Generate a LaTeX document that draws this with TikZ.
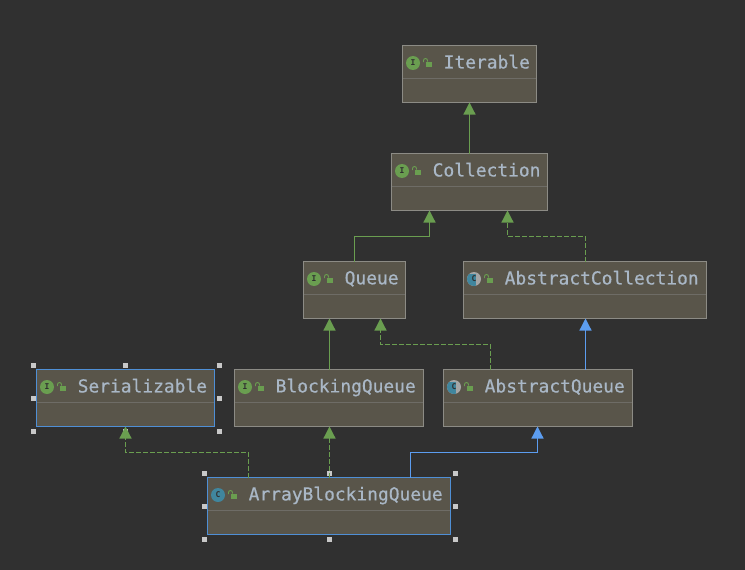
\documentclass[tikz,border=0pt]{standalone}
\usepackage{fontspec}
\setmonofont{DejaVu Sans Mono}
\newfontfamily\classfont[FakeBold=0.6]{DejaVu Sans Mono}
\usetikzlibrary{arrows.meta}
\definecolor{bgdark}{HTML}{303030}
\definecolor{boxfill}{HTML}{59554A}
\definecolor{boxedge}{HTML}{8C8B85}
\definecolor{boxline}{HTML}{6E6C66}
\definecolor{labelcol}{HTML}{A9B7C6}
\definecolor{greencol}{HTML}{6A9E50}
\definecolor{bluecol}{HTML}{5C9DF0}
\definecolor{tealcol}{HTML}{40869E}
\definecolor{selcol}{HTML}{4F8FD6}
\definecolor{handlecol}{HTML}{C8C8C8}
\tikzset{
  classbox/.style={fill=boxfill,line width=1.2pt,inner sep=0pt,outer sep=0pt,minimum height=57pt},
  classlbl/.style={anchor=west,inner sep=0pt,text=labelcol,font=\classfont\fontsize{17.9}{20}\selectfont},
  icon/.style={circle,inner sep=0pt,minimum size=14pt,text=bgdark,font=\ttfamily\bfseries\fontsize{8}{8}\selectfont},
  ifaceicon/.style={icon,fill=greencol},
  classicon/.style={icon,fill=tealcol},
  abstracticon/.style={icon,fill=gray!70,path picture={\fill[tealcol] (-4.5,-8) rectangle (4.5,8);}},
  extline/.style={-{Triangle[width=12pt,length=12pt]},line width=1.2pt,color=greencol},
  implline/.style={extline,dash pattern=on 5pt off 2pt},
  blueline/.style={extline,color=bluecol},
  handle/.style={fill=handlecol},
}
\begin{document}
\begin{tikzpicture}[x=1pt,y=-1pt]
\fill[bgdark] (0.5,0.5) rectangle (745.5,570.5);
\useasboundingbox (0.5,0.5) rectangle (745.5,570.5);
%%%%% Selection handles %%%%%
\foreach \hx/\hy in {34/366,126/366,220/366,34/399,220/399,34/432,126/432,220/432,
  205/474,330/474,456/474,205/507,456/507,205/540,330/540,456/540}{
\fill[handle] (\hx-2.5,\hy-2.5) rectangle (\hx+2.5,\hy+2.5);
}
%%%%% Classes %%%%%
\foreach \nm/\cx/\cy/\w/\txt/\kind/\lt/\edge in {
  iterable/403/46/134/Iterable/ifaceicon/I/boxedge,
  collection/392/154/156/Collection/ifaceicon/I/boxedge,
  queue/304/262/102/Queue/ifaceicon/I/boxedge,
  abscoll/464/262/243/AbstractCollection/abstracticon/C/boxedge,
  serial/37/370/178/Serializable/ifaceicon/I/selcol,
  blocking/235/370/189/BlockingQueue/ifaceicon/I/boxedge,
  absqueue/444/370/189/AbstractQueue/abstracticon/C/boxedge,
  arrayq/208/478/243/ArrayBlockingQueue/classicon/C/selcol}{
\node[classbox,draw=\edge,minimum width=\w pt,anchor=north west] (\nm) at (\cx,\cy) {};
\draw[boxline] (\cx+0.6,\cy+33) -- (\cx+\w-0.6,\cy+33);
\node[\kind] (\nm-icon) at (\cx+10.5,\cy+17.5) {\lt};
\fill[greencol] (\cx+23,\cy+16) rectangle (\cx+29.5,\cy+21.5);
\draw[greencol,line width=0.9pt] (\cx+21,\cy+16.5) -- (\cx+21,\cy+15) arc[start angle=180,end angle=360,radius=2] -- (\cx+25,\cy+16);
\node[classlbl] (\nm-lbl) at (\cx+41,\cy+18) {\vphantom{Iy}\txt};
}
%%%%% Connectors %%%%%
\draw[extline] (collection.north) -- (iterable.south);
\draw[extline] ([xshift=51]queue.north west) -- ++(0,-25) -| ([xshift=38]collection.south west);
\draw[implline] ([xshift=122]abscoll.north west) -- ++(0,-25) -| ([xshift=116]collection.south west);
\draw[extline] ([xshift=95]blocking.north west) -- ([xshift=26]queue.south west);
\draw[blueline] ([xshift=142]absqueue.north west) -- ([xshift=122]abscoll.south west);
\draw[implline] ([xshift=47]absqueue.north west) -- ++(0,-25) -| ([xshift=77]queue.south west);
\draw[implline] ([xshift=41]arrayq.north west) -- ++(0,-25) -| (serial.south);
\draw[implline] ([xshift=122]arrayq.north west) -- ([xshift=95]blocking.south west);
\draw[blueline] ([xshift=203]arrayq.north west) -- ++(0,-25) -| ([xshift=94]absqueue.south west);
\end{tikzpicture}
\end{document}
